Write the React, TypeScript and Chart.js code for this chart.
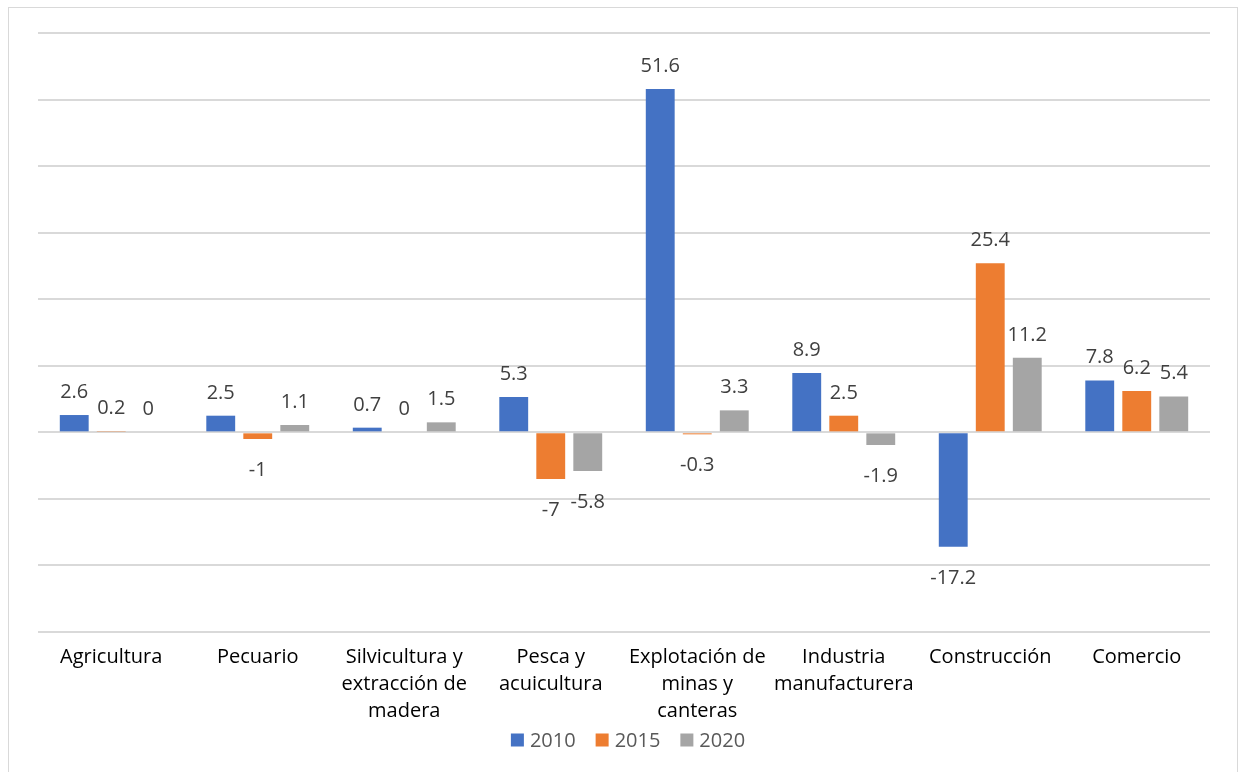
import React, { useEffect, useRef } from "react";
import { Chart, registerables } from "chart.js";

Chart.register(...registerables);

const categories: (string | string[])[] = [
  "Agricultura",
  "Pecuario",
  ["Silvicultura y", "extracción de", "madera"],
  ["Pesca y", "acuicultura"],
  ["Explotación de", "minas y", "canteras"],
  ["Industria", "manufacturera"],
  "Construcción",
  "Comercio",
];
const series2010 = [2.6, 2.5, 0.7, 5.3, 51.6, 8.9, -17.2, 7.8];
const series2015 = [0.2, -1, 0, -7, -0.3, 2.5, 25.4, 6.2];
const series2020 = [0, 1.1, 1.5, -5.8, 3.3, -1.9, 11.2, 5.4];
const seriesNames = ["2010", "2015", "2020"];
const seriesColors = ["#4472C4", "#ED7D31", "#A5A5A5"];

const FONT = "'Open Sans', 'Noto Sans', sans-serif";

const dataLabelPlugin = {
  id: "dataLabels",
  afterDatasetsDraw(chart: any) {
    const ctx = chart.ctx;
    ctx.save();
    ctx.font = `20px ${FONT}`;
    ctx.fillStyle = "#404040";
    ctx.textAlign = "center";
    ctx.textBaseline = "alphabetic";
    chart.data.datasets.forEach((ds: any, di: number) => {
      const meta = chart.getDatasetMeta(di);
      meta.data.forEach((bar: any, i: number) => {
        const v = ds.data[i];
        const y = v >= 0 ? bar.y - 17 : bar.y + 37;
        ctx.fillText(String(v), bar.x, y);
      });
    });
    ctx.restore();
  },
};

const legendPlugin = {
  id: "customLegend",
  afterDraw(chart: any) {
    const ctx = chart.ctx;
    ctx.save();
    ctx.font = `20px ${FONT}`;
    ctx.textBaseline = "middle";
    ctx.textAlign = "left";
    const box = 13;
    const gapText = 6;
    const gapItem = 20;
    const items = chart.data.datasets.map((ds: any) => ({
      label: ds.label,
      color: ds.backgroundColor,
      w: box + gapText + ctx.measureText(ds.label).width,
    }));
    const total =
      items.reduce((s: number, it: any) => s + it.w, 0) + gapItem * (items.length - 1);
    let x = chart.width / 2 + 5 - total / 2;
    const cy = chart.chartArea.bottom + 108;
    items.forEach((it: any) => {
      ctx.fillStyle = it.color;
      ctx.fillRect(x, cy - box / 2, box, box);
      ctx.fillStyle = "#595959";
      ctx.fillText(it.label, x + box + gapText, cy + 1);
      x += it.w + gapItem;
    });
    ctx.restore();
  },
};

export default function App() {
  const ref = useRef<HTMLCanvasElement>(null);
  useEffect(() => {
    document.body.style.overflow = "hidden";
    const chart = new Chart(ref.current!, {
      type: "bar",
      data: {
        labels: categories,
        datasets: seriesNames.map((name, k) => ({
          label: name,
          data: [series2010, series2015, series2020][k],
          backgroundColor: seriesColors[k],
        })),
      },
      options: {
        responsive: false,
        animation: false,
        categoryPercentage: 0.758,
        barPercentage: 0.78,
        layout: { padding: { top: 25, right: 27, left: 0, bottom: 40 } },
        plugins: {
          tooltip: { enabled: false },
          legend: { display: false },
        },
        scales: {
          x: {
            grid: { display: false, drawTicks: false },
            border: { display: false },
            ticks: {
              maxRotation: 0,
              autoSkip: false,
              padding: 12,
              color: "#000000",
              font: { family: FONT, size: 20, lineHeight: 1.35 },
            },
            afterFit: (scale: any) => {
              scale.height = 100;
            },
          },
          y: {
            min: -30,
            max: 60,
            ticks: { display: false, stepSize: 10 },
            grid: { color: "#d9d9d9", lineWidth: 2, drawTicks: false },
            border: { display: false },
            afterFit: (scale: any) => {
              scale.width = 29;
            },
          },
        },
      },
      plugins: [dataLabelPlugin, legendPlugin],
    });
    return () => chart.destroy();
  }, []);

  return (
    <div
      style={{
        position: "absolute",
        left: 8,
        top: 7,
        width: 1228,
        height: 765,
        borderTop: "1px solid #d9d9d9",
        borderLeft: "1px solid #d9d9d9",
        borderRight: "1px solid #d9d9d9",
        background: "#fff",
      }}
    >
      <canvas ref={ref} width={1228} height={764} style={{ display: "block" }} />
    </div>
  );
}
